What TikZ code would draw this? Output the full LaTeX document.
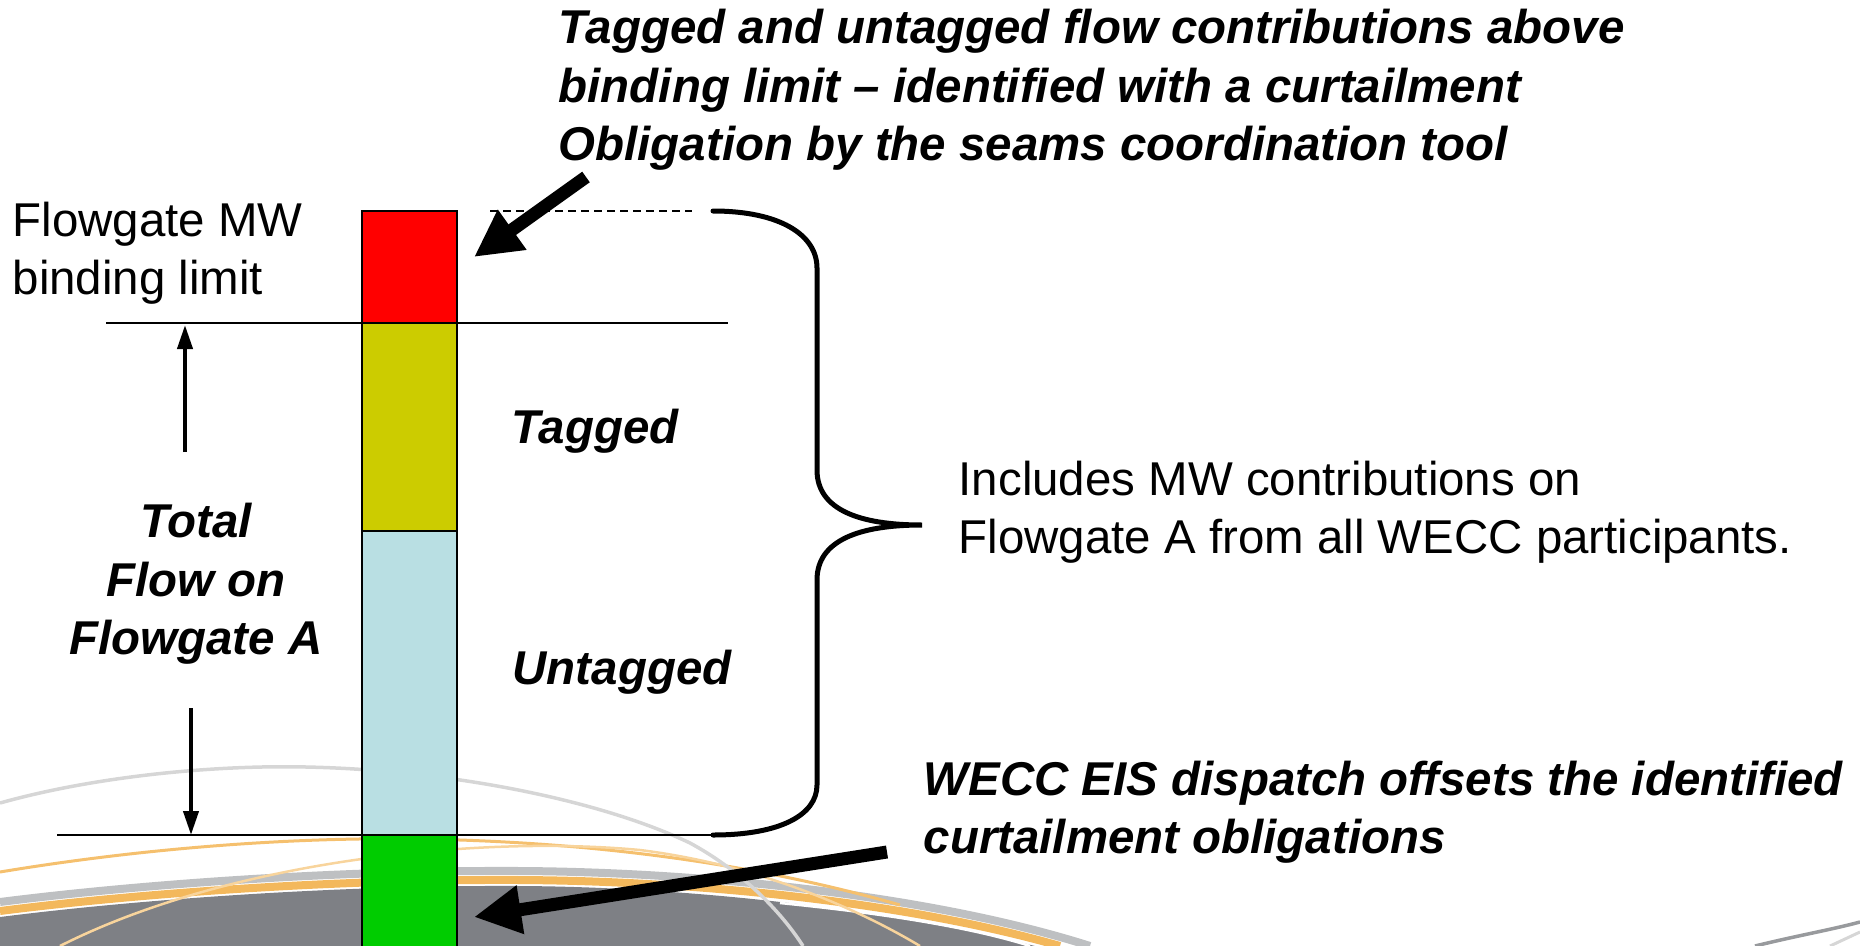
\documentclass[tikz,border=0pt]{standalone}
\usepackage{fontspec}
\setmainfont{Liberation Sans}
\usepackage{tikz}
\usetikzlibrary{positioning,arrows.meta}

\definecolor{barred}{HTML}{FF0000}
\definecolor{baryellow}{HTML}{CCCC00}
\definecolor{barblue}{HTML}{B9DFE3}
\definecolor{bargreen}{HTML}{00CC00}
\definecolor{swoopgray}{HTML}{7E8085}
\definecolor{swooporange}{HTML}{F2B04A}
\definecolor{swooplight}{HTML}{D6D6D6}

\tikzstyle{barpart} = 
[
	rectangle, 
	minimum width = 9.5mm, 
	inner sep = 0pt, 
	outer sep = 0pt, 
	draw=black, 
	line width = 0.45pt
]
\tikzstyle{normaltext} = 
[
	inner sep = 0pt, 
	align = left, 
	font = \fontsize{13.5pt}{16.6pt}\selectfont
]
\tikzstyle{boldtext} = 
[
	inner sep = 0pt, 
	align = left, 
	font = \fontsize{13.5pt}{16.6pt}\selectfont\bfseries\itshape
]
\tikzstyle{limitline} = [line width=0.6pt]
\tikzstyle{bracket} = [line width=0.5mm, line cap=round]
\tikzstyle{flowarrow} = [line width=0.4mm,-{Triangle[length=2.4mm,width=1.5mm]}]
\tikzstyle{bigarrow} = [line width=1.3mm,-{Triangle[length=4.7mm,width=4.6mm]}]

\begin{document}
\begin{tikzpicture}[x=0.1mm,y=-0.1mm]
	\useasboundingbox (0,0) rectangle (1860,946);
	
	% background swoosh
	\fill [swoopgray] (0,946) -- (0,917) .. controls (150,898) and (350,885) .. (520,886) .. controls (700,887) and (900,912) .. (1035,946) -- cycle;
	\draw [swoopgray!50, line width=0.8mm] (0,902) .. controls (150,883) and (350,870) .. (520,871) .. controls (700,872) and (930,895) .. (1090,946);
	\draw [swooporange, line width=0.8mm, opacity=0.9] (0,911) .. controls (150,892) and (350,879) .. (520,880) .. controls (700,881) and (910,903) .. (1060,946);
	\draw [white, line width=0.25mm] (780,903) .. controls (900,915) and (980,930) .. (1030,946);
	\draw [swooporange!80, line width=0.3mm] (0,872) .. controls (150,847) and (300,837) .. (420,839) .. controls (600,842) and (760,865) .. (900,905);
	\draw [swooporange!55, line width=0.25mm] (60,946) .. controls (230,860) and (480,835) .. (640,850) .. controls (760,865) and (860,910) .. (920,946);
	\draw [swooplight, line width=0.35mm] (0,803) .. controls (100,775) and (220,765) .. (306,767) .. controls (450,770) and (600,800) .. (690,843) .. controls (740,870) and (780,910) .. (803,946);
	\draw [swoopgray!80, line width=0.35mm] (1755,946) .. controls (1800,935) and (1830,930) .. (1860,922);
	\draw [swooplight, line width=0.3mm] (1830,946) -- (1860,932);
	
	% stacked flow bar
	\node 
	(Limit) 
	[
		barpart, 
		fill = barred, 
		minimum height = 11.2mm, 
		anchor = north west
	] 
	at (362,211) {};
	
	\node 
	(Tagged) 
	[
		barpart, 
		fill = baryellow, 
		minimum height = 20.8mm, 
		below = 0pt of Limit
	] 
	{};
	
	\node 
	(Untagged) 
	[
		barpart, 
		fill = barblue, 
		minimum height = 30.4mm, 
		below = 0pt of Tagged
	] 
	{};
	
	\node 
	(Offset) 
	[
		barpart, 
		fill = bargreen, 
		minimum height = 11.5mm, 
		below = 0pt of Untagged
	] 
	{};
	
	% texts
	\node 
	(BindingText) 
	[
		normaltext, 
		anchor = west
	] 
	at (12,253) 
	{
		Flowgate MW\\binding limit
	};
	
	\node 
	(TotalText) 
	[
		boldtext, 
		align = center
	] 
	at (196,584) 
	{
		Total\\Flow on\\Flowgate A
	};
	
	\node 
	(TaggedText) 
	[boldtext] 
	at (595,431) 
	{Tagged};
	
	\node 
	(UntaggedText) 
	[boldtext] 
	at (622,672) 
	{Untagged};
	
	\node 
	(AboveText) 
	[
		boldtext, 
		anchor = west
	] 
	at (558,90) 
	{
		Tagged and untagged flow contributions above\\
		binding limit -- identified with a curtailment\\
		Obligation by the seams coordination tool
	};
	
	\node 
	(IncludesText) 
	[
		normaltext, 
		anchor = west
	] 
	at (958,512) 
	{
		Includes MW contributions on\\
		Flowgate A from all WECC participants.
	};
	
	\node 
	(OffsetText) 
	[
		boldtext, 
		anchor = west
	] 
	at (923,812) 
	{
		WECC EIS dispatch offsets the identified\\
		curtailment obligations
	};
	
	% end points
	\coordinate (LimitLeft) at (106,323);
	\coordinate (LimitRight) at (728,323);
	\coordinate (BaseLeft) at (57,835);
	\coordinate (BraceTop) at (713,211);
	\coordinate (BraceTip) at (922,525);
	\coordinate (BraceLow) at (713,835);
	\coordinate (DashStart) at (490,211);
	\coordinate (DashEnd) at (692,211);
	\coordinate (UpFrom) at (185,452);
	\coordinate (UpTo) at (185,325);
	\coordinate (DownFrom) at (191,708);
	\coordinate (DownTo) at (191,835);
	\coordinate (AboveTail) at (586,177);
	\coordinate (AboveTip) at (474,257);
	\coordinate (OffsetTail) at (887,852);
	\coordinate (OffsetTip) at (474,917);
	
	\draw [limitline] (LimitLeft) -- (LimitRight);
	\draw [limitline] (BaseLeft) -- (BraceLow);
	\draw [dashed, line width=0.4pt, dash pattern=on 0.8mm off 0.5mm] (DashStart) -- (DashEnd);
	\draw [bracket] (BraceTop) .. controls (780,211) and (817,235) .. (817,268) -- (817,470) .. controls (817,510) and (860,525) .. (BraceTip) .. controls (860,525) and (817,540) .. (817,580) -- (817,785) .. controls (817,815) and (780,835) .. (BraceLow);
	\draw [flowarrow] (UpFrom) -- (UpTo);
	\draw [flowarrow] (DownFrom) -- (DownTo);
	\draw [bigarrow] (AboveTail) -- (AboveTip);
	\draw [bigarrow] (OffsetTail) -- (OffsetTip);
	
\end{tikzpicture}
\end{document}
